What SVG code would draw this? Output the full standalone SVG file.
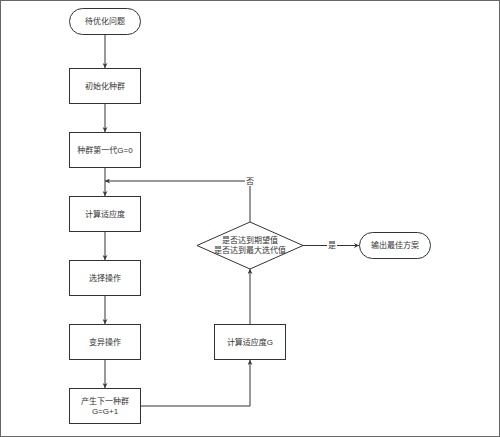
<svg xmlns="http://www.w3.org/2000/svg" width="500" height="437" viewBox="0 0 500 437">
<defs>
<style>
.n{fill:#fff;stroke:#333;stroke-width:1}
.t{font-family:"Liberation Sans","Noto Sans CJK SC",sans-serif;font-size:8px;fill:#333;text-anchor:middle;dominant-baseline:central}
.e{fill:none;stroke:#333;stroke-width:1}
.lb{fill:#fff}
</style>
<marker id="a" viewBox="0 0 10 10" refX="10" refY="5" markerWidth="5" markerHeight="5" orient="auto" markerUnits="userSpaceOnUse">
<path d="M0,0 L10,5 L0,10 L3,5 Z" fill="#333"/>
</marker>
</defs>
<rect x="0.5" y="0.5" width="499" height="436" fill="#fff" stroke="#666" stroke-width="1"/>
<g id="connectors">
<path class="e" d="M105,35 V68" marker-end="url(#a)"/>
<path class="e" d="M105,104 V132" marker-end="url(#a)"/>
<path class="e" d="M105,168 V196" marker-end="url(#a)"/>
<path class="e" d="M105,232 V260" marker-end="url(#a)"/>
<path class="e" d="M105,296 V324" marker-end="url(#a)"/>
<path class="e" d="M105,360 V388" marker-end="url(#a)"/>
<path class="e" d="M141,406 H250 V360" marker-end="url(#a)"/>
<path class="e" d="M250,324 V269" marker-end="url(#a)"/>
<path class="e" d="M250,222 V181 H105" marker-end="url(#a)"/>
<path class="e" d="M303,245.5 H359" marker-end="url(#a)"/>
<rect class="lb" x="245" y="176" width="10" height="10"/>
<text class="t" x="250" y="181">否</text>
<rect class="lb" x="327" y="240" width="10" height="11"/>
<text class="t" x="332" y="245.5">是</text>
</g>
<g id="start"><rect class="n" x="69.5" y="8.5" width="71" height="26" rx="13" ry="13"/><text class="t" x="105" y="21.5">待优化问题</text></g>
<g id="init"><rect class="n" x="69.5" y="68.5" width="71" height="35"/><text class="t" x="105" y="86">初始化种群</text></g>
<g id="gen0"><rect class="n" x="69.5" y="132.5" width="71" height="35"/><text class="t" x="105" y="150">种群第一代G=0</text></g>
<g id="fitness"><rect class="n" x="69.5" y="196.5" width="71" height="35"/><text class="t" x="105" y="214">计算适应度</text></g>
<g id="select"><rect class="n" x="69.5" y="260.5" width="71" height="35"/><text class="t" x="105" y="278">选择操作</text></g>
<g id="mutate"><rect class="n" x="69.5" y="324.5" width="71" height="35"/><text class="t" x="105" y="342">变异操作</text></g>
<g id="next"><rect class="n" x="69.5" y="388.5" width="71" height="35"/><text class="t" x="105" y="401">产生下一种群</text><text class="t" x="105" y="411">G=G+1</text></g>
<g id="fitnessG"><rect class="n" x="214.5" y="324.5" width="71" height="35"/><text class="t" x="250" y="342">计算适应度G</text></g>
<g id="decision"><path class="n" d="M250,222 L303,245.5 L250,269 L197,245.5 Z"/><text class="t" x="250" y="240.5">是否达到期望值</text><text class="t" x="250" y="250.5">是否达到最大迭代值</text></g>
<g id="output"><rect class="n" x="359.5" y="232.5" width="71" height="26" rx="13" ry="13"/><text class="t" x="395" y="245.5">输出最佳方案</text></g>
</svg>
